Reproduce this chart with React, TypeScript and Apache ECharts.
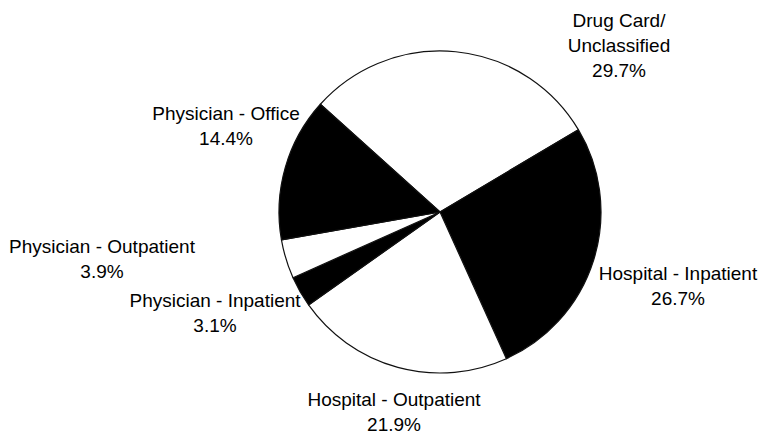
import React, { useEffect, useRef } from "react";
import * as echarts from "echarts";

const categories = [
  "Drug Card/\nUnclassified",
  "Hospital - Inpatient",
  "Hospital - Outpatient",
  "Physician - Inpatient",
  "Physician - Outpatient",
  "Physician - Office",
];
const shares = [29.7, 26.7, 21.9, 3.1, 3.9, 14.4];
const fills = ["#ffffff", "#000000", "#ffffff", "#000000", "#ffffff", "#000000"];
// label block centres (px)
const labelPos: [number, number][] = [
  [619, 45],
  [678, 286],
  [394, 412],
  [215, 313],
  [102, 259],
  [226, 126],
];

export default function App() {
  const ref = useRef<HTMLDivElement>(null);
  useEffect(() => {
    if (!ref.current) return;
    const chart = echarts.init(ref.current, null, { renderer: "svg" });
    chart.setOption({
      animation: false,
      backgroundColor: "#ffffff",
      series: [
        {
          type: "pie",
          center: [440, 212],
          radius: 161,
          startAngle: 138,
          clockwise: true,
          avoidLabelOverlap: false,
          emphasis: { disabled: true },
          itemStyle: { borderColor: "#111", borderWidth: 1.2 },
          label: {
            show: true,
            position: "outside",
            color: "#000",
            fontFamily: "Liberation Sans, Arial, sans-serif",
            fontSize: 19,
            lineHeight: 25,
            align: "center",
            formatter: (p: any) => `${p.name}\n${Number(p.value).toFixed(1)}%`,
          },
          labelLine: { show: false },
          labelLayout: (params: any) => {
            const [x, y] = labelPos[params.dataIndex];
            return { x, y, align: "center", verticalAlign: "middle" };
          },
          data: categories.map((name, i) => ({
            name,
            value: shares[i],
            itemStyle: { color: fills[i] },
          })),
        },
      ],
    });
    return () => chart.dispose();
  }, []);
  return (
    <div
      ref={ref}
      style={{ position: "absolute", left: 0, top: 0, width: 760, height: 444 }}
    />
  );
}
